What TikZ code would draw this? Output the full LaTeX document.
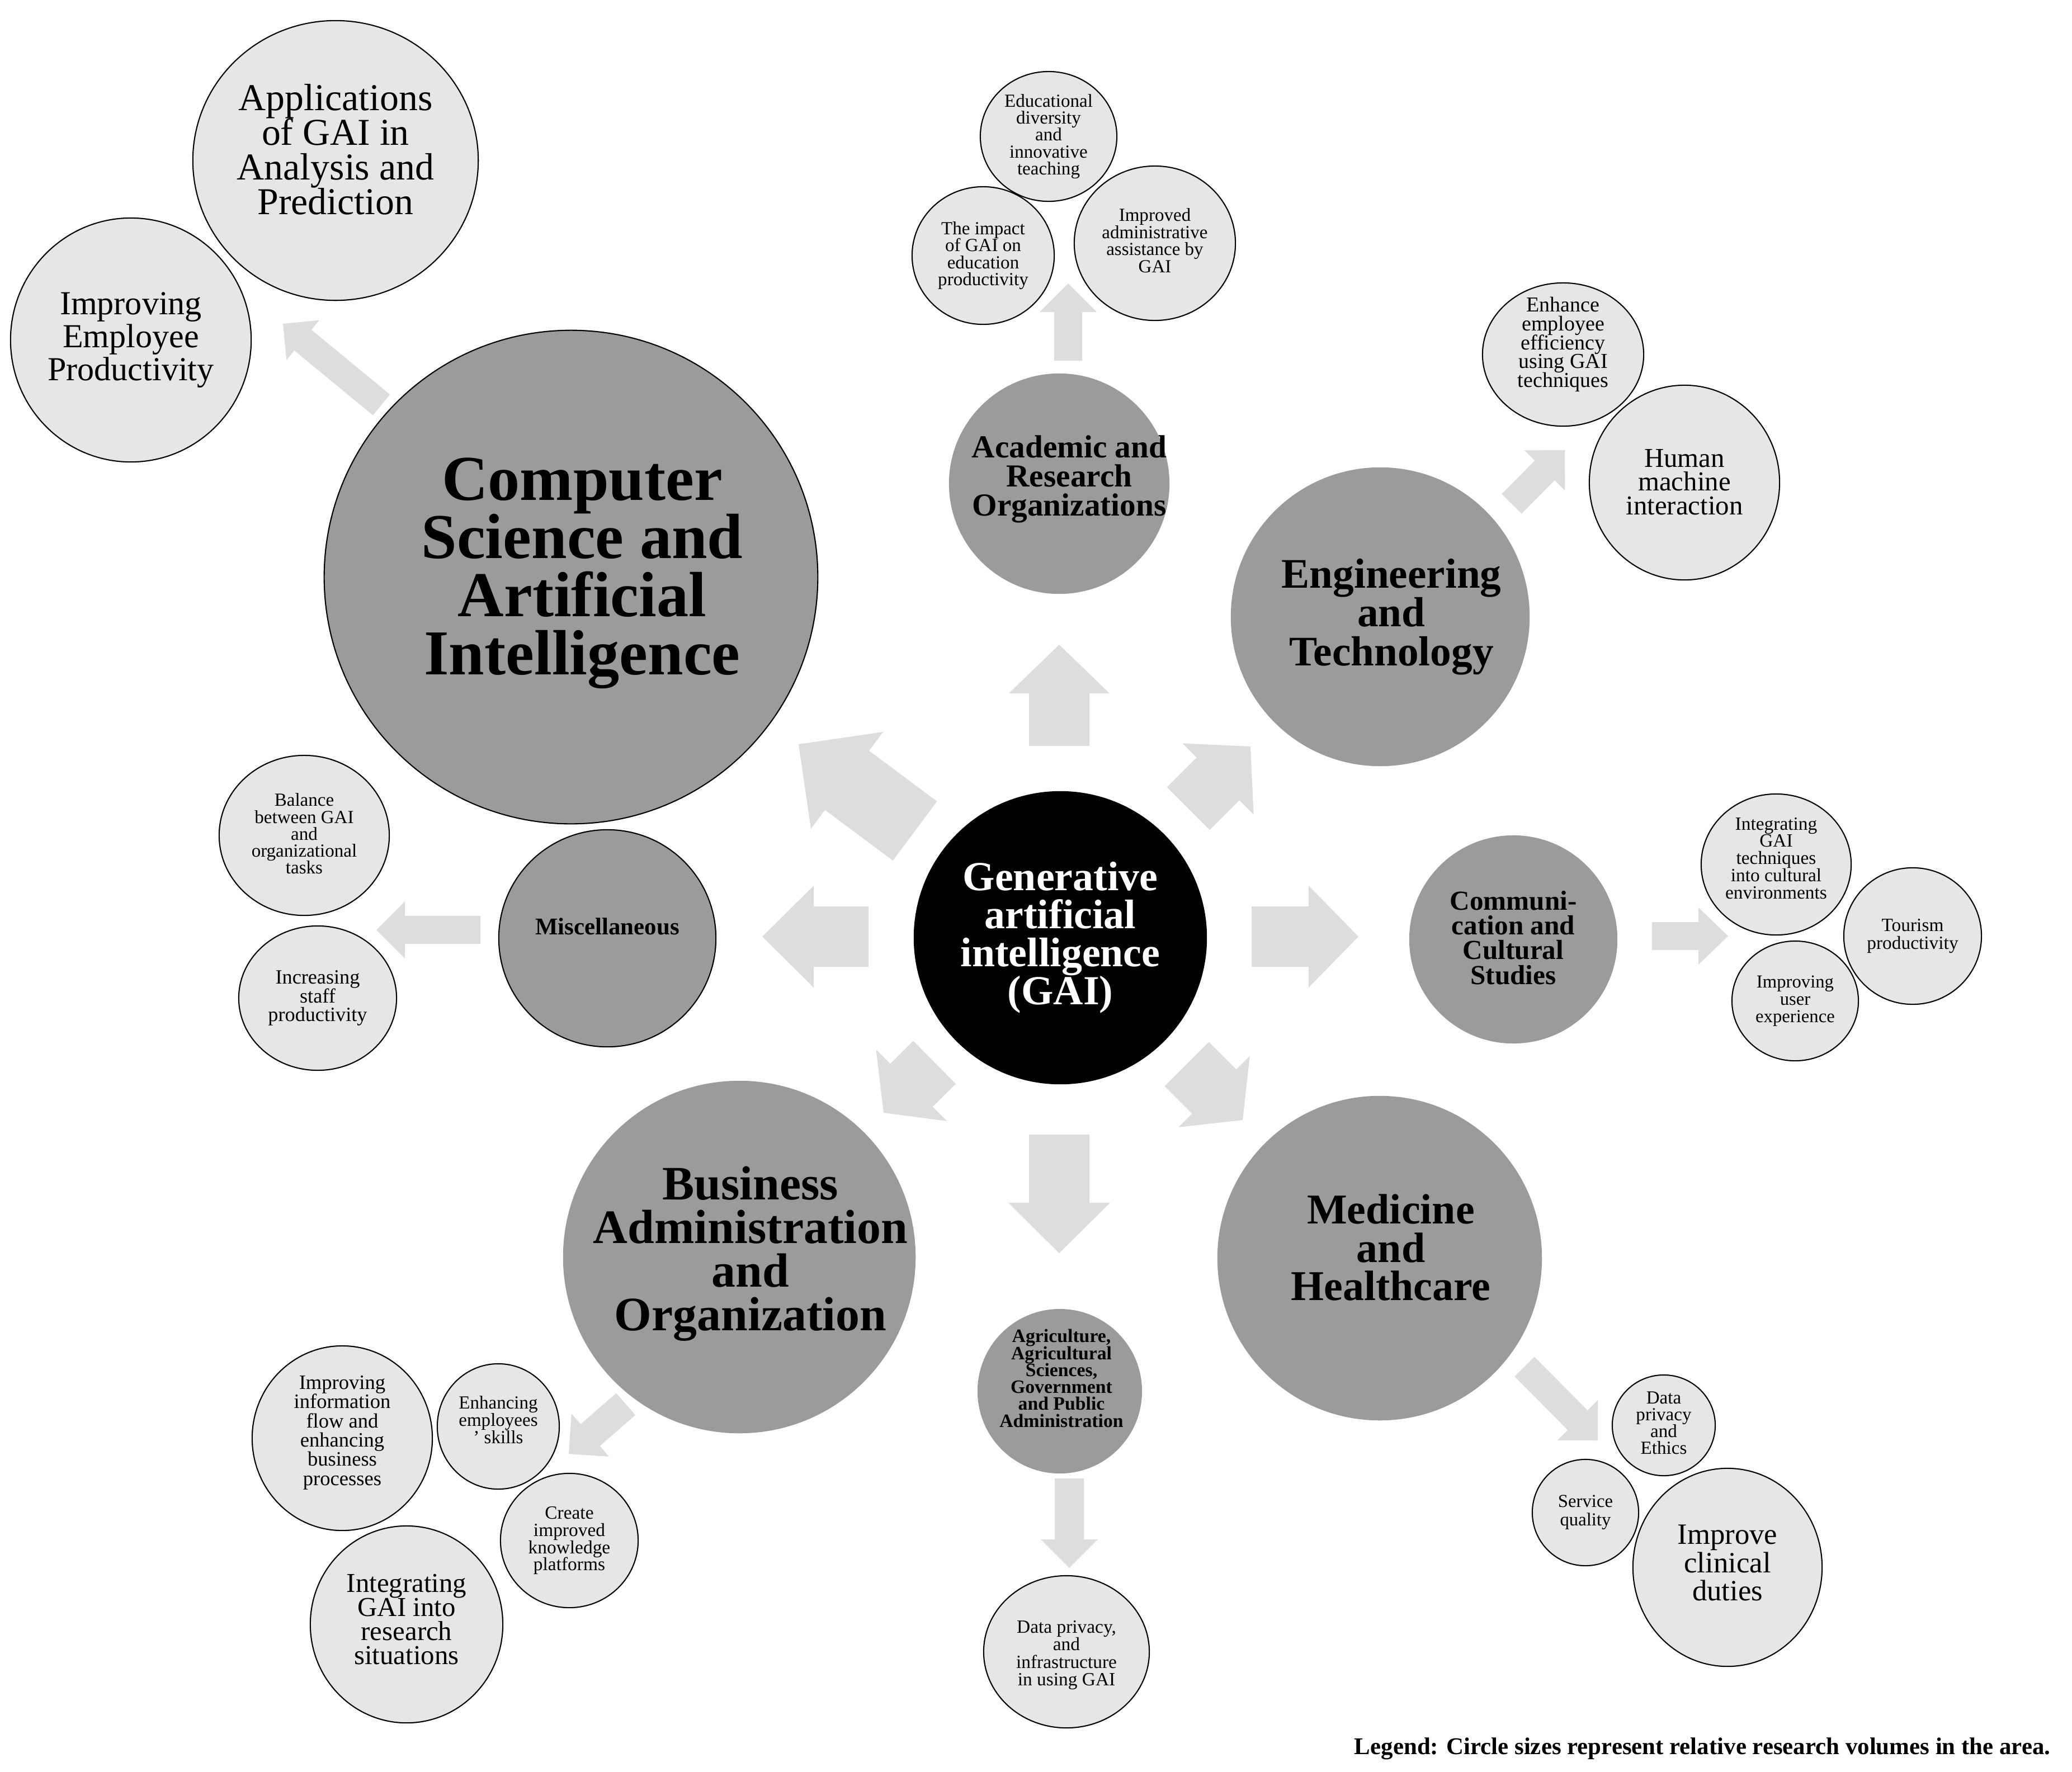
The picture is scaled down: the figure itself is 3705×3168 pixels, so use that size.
\documentclass[tikz,border=0pt]{standalone}
\usepackage{fontspec}
\setmainfont{Liberation Serif}
\usetikzlibrary{shapes.geometric,calc}
\definecolor{darkfill}{RGB}{155,155,155}
\definecolor{lightfill}{RGB}{230,230,230}
\definecolor{arrowfill}{RGB}{221,221,221}
\newcommand\fsz[2]{\fontsize{#1pt}{#2pt}\selectfont\lineskiplimit=-100pt\relax}
% block arrow: tail, tip, shaft half width, head half width, head length (px)
\newcommand\barrow[5]{%
  \path (#2) coordinate (bt) ($(#2)!#5*0.01cm!(#1)$) coordinate (bc);
  \fill[arrowfill] ($(#1)!#3*0.01cm!90:(bt)$) -- ($(bc)!#3*0.01cm!-90:(#1)$)
    -- ($(bc)!#4*0.01cm!-90:(#1)$) -- (bt) -- ($(bc)!#4*0.01cm!90:(#1)$)
    -- ($(bc)!#3*0.01cm!90:(#1)$) -- ($(#1)!#3*0.01cm!-90:(bt)$) -- cycle;}
\begin{document}
\begin{tikzpicture}[x=0.01cm,y=-0.01cm,
  blob/.style={ellipse,inner sep=0pt,outer sep=0pt},
  rad/.style 2 args={minimum width=#1*0.02cm,minimum height=#2*0.02cm},
  topic/.style={blob,fill=darkfill},
  ring/.style={draw=black,line width=0.6pt},
  item/.style={blob,fill=lightfill,draw=black,line width=0.6pt},
  txt/.style={inner sep=0pt,align=center}]
\useasboundingbox (0,0) rectangle (3705,3168);
\fill[white] (0,0) rectangle (3705,3168);

% ---------- arrow end points ----------
\coordinate (a1s) at (1894,1334); \coordinate (a1e) at (1894,1153);
\coordinate (a2s) at (2238,1675); \coordinate (a2e) at (2429,1675);
\coordinate (a3s) at (1553,1675); \coordinate (a3e) at (1363,1675);
\coordinate (a4s) at (1894,2029); \coordinate (a4e) at (1894,2241);
\coordinate (a5s) at (1636,1486); \coordinate (a5e) at (1428,1331);
\coordinate (a6s) at (2125,1446); \coordinate (a6e) at (2236,1335);
\coordinate (a7s) at (1671,1900); \coordinate (a7e) at (1580,1990);
\coordinate (a8s) at (2122,1903); \coordinate (a8e) at (2222,2003);
\coordinate (b1s) at (682,724);   \coordinate (b1e) at (506,579);
\coordinate (b2s) at (1910,645);  \coordinate (b2e) at (1910,507);
\coordinate (b3s) at (2703,901);  \coordinate (b3e) at (2798,805);
\coordinate (b4s) at (859,1663);  \coordinate (b4e) at (673,1663);
\coordinate (b5s) at (2954,1674); \coordinate (b5e) at (3090,1674);
\coordinate (b6s) at (2726,2444); \coordinate (b6e) at (2857,2576);
\coordinate (b7s) at (1912,2644); \coordinate (b7e) at (1912,2804);
\coordinate (b8s) at (1119,2511); \coordinate (b8e) at (1017,2600);

\barrow{a1s}{a1e}{54}{90}{87}
\barrow{a2s}{a2e}{54}{91}{89}
\barrow{a3s}{a3e}{54}{91}{92}
\barrow{a4s}{a4e}{54}{91}{90}
\barrow{a5s}{a5e}{66}{108}{108}
\barrow{a6s}{a6e}{54}{90}{82}
\barrow{a7s}{a7e}{54}{90}{70}
\barrow{a8s}{a8e}{56}{90}{72}
\barrow{b1s}{b1e}{24}{46}{46}
\barrow{b2s}{b2e}{25}{51}{51}
\barrow{b3s}{b3e}{25}{51}{51}
\barrow{b4s}{b4e}{25}{51}{51}
\barrow{b5s}{b5e}{25}{51}{53}
\barrow{b6s}{b6e}{25}{51}{51}
\barrow{b7s}{b7e}{26}{51}{51}
\barrow{b8s}{b8e}{26}{51}{51}

% ---------- main topics ----------
\node[topic,fill=black,rad={262}{262}] (gai) at (1896,1677) {};
\node[txt,text=white,font=\fsz{21}{19.3}\bfseries] (gait) at (gai.center)
  {Generative\\artificial\\intelligence\\(GAI)};
\node[topic,ring,rad={441}{441}] (cs) at (1021,1032) {};
\node[txt,font=\fsz{32.5}{29.6}\bfseries] (cst) at (1041,1025)
  {Computer\\Science and\\Artificial\\Intelligence};
\node[topic,rad={197}{197}] (acad) at (1894,865) {};
\node[txt,font=\fsz{16.3}{14.8}\bfseries] (acadt) at (1912,857)
  {Academic and\\Research\\Organizations};
\node[topic,rad={267}{267}] (eng) at (2468,1103) {};
\node[txt,font=\fsz{21.4}{19.8}\bfseries] (engt) at (2488,1103)
  {Engineering\\and\\Technology};
\node[topic,rad={186}{186}] (comm) at (2706,1680) {};
\node[txt,font=\fsz{14}{12.6}\bfseries] (commt) at (2706,1677)
  {Communi-\\cation and\\Cultural\\Studies};
\node[topic,rad={290}{290}] (med) at (2467,2250) {};
\node[txt,font=\fsz{21.6}{19.5}\bfseries] (medt) at (2487,2231)
  {Medicine\\and\\Healthcare};
\node[topic,rad={147}{147}] (agri) at (1895,2488) {};
\node[txt,font=\fsz{9.6}{8.6}\bfseries] (agrit) at (1898,2465)
  {Agriculture,\\Agricultural\\Sciences,\\Government\\and Public\\Administration};
\node[topic,rad={315}{315}] (bus) at (1322,2248) {};
\node[txt,font=\fsz{24.4}{22.2}\bfseries] (bust) at (1342,2242)
  {Business\\Administration\\and\\Organization};
\node[topic,ring,rad={194}{194}] (misc) at (1086,1678) {};
\node[txt,font=\fsz{12.2}{14}\bfseries] (misct) at (1086,1657) {Miscellaneous};

% ---------- sub topics ----------
\node[item,rad={255}{250}] (app) at (600,287) {};
\node[txt,font=\fsz{19.3}{17.6}] (appt) at (600,267)
  {Applications\\of GAI in\\Analysis and\\Prediction};
\node[item,rad={215}{218}] (emp) at (234,608) {};
\node[txt,font=\fsz{17.1}{16.8}] (empt) at (emp.center)
  {Improving\\Employee\\Productivity};

\node[item,rad={122}{116}] (edu) at (1875,244) {};
\node[txt,font=\fsz{9.4}{8.6}] (edut) at (edu.center)
  {Educational\\diversity\\and\\innovative\\teaching};
\node[item,rad={127}{123}] (impc) at (1758,457) {};
\node[txt,font=\fsz{9.4}{8.6}] (impct) at (impc.center)
  {The impact\\of GAI on\\education\\productivity};
\node[item,rad={144}{138}] (adm) at (2065,435) {};
\node[txt,font=\fsz{9.4}{8.7}] (admt) at (2065,430)
  {Improved\\administrative\\assistance by\\GAI};

\node[item,rad={144}{128}] (enh) at (2795,634) {};
\node[txt,font=\fsz{10.8}{9.6}] (enht) at (2795,616)
  {Enhance\\employee\\efficiency\\using GAI\\techniques};
\node[item,rad={170}{174}] (hum) at (3012,863) {};
\node[txt,font=\fsz{13.9}{12.1}] (humt) at (3012,862)
  {Human\\machine\\interaction};

\node[item,rad={134}{126}] (cul) at (3176,1546) {};
\node[txt,font=\fsz{9.5}{8.8}] (cult) at (3176,1535)
  {Integrating\\GAI\\techniques\\into cultural\\environments};
\node[item,rad={123}{122}] (tour) at (3420,1674) {};
\node[txt,font=\fsz{9.5}{9}] (tourt) at (tour.center)
  {Tourism\\productivity};
\node[item,rad={113}{107}] (user) at (3210,1790) {};
\node[txt,font=\fsz{9.3}{8.8}] (usert) at (user.center)
  {Improving\\user\\experience};

\node[item,rad={152}{143}] (bal) at (544,1494) {};
\node[txt,font=\fsz{9.4}{8.6}] (balt) at (544,1491)
  {Balance\\between GAI\\and\\organizational\\tasks};
\node[item,rad={141}{129}] (inc) at (568,1785) {};
\node[txt,font=\fsz{10.3}{9.6}] (inct) at (inc.center)
  {Increasing\\staff\\productivity};

\node[item,rad={161}{165}] (info) at (612,2572) {};
\node[txt,font=\fsz{10.4}{9.8}] (infot) at (612,2562)
  {Improving\\information\\flow and\\enhancing\\business\\processes};
\node[item,rad={109}{112}] (skl) at (891,2551) {};
\node[txt,font=\fsz{9.4}{8.8}] (sklt) at (891,2539)
  {Enhancing\\employees\\' skills};
\node[item,rad={123}{120}] (kno) at (1018,2755) {};
\node[txt,font=\fsz{9.5}{8.8}] (knot) at (kno.center)
  {Create\\improved\\knowledge\\platforms};
\node[item,rad={172}{176}] (res) at (727,2905) {};
\node[txt,font=\fsz{13.9}{12.3}] (rest) at (727,2896)
  {Integrating\\GAI into\\research\\situations};

\node[item,rad={92}{90}] (dpe) at (2975,2549) {};
\node[txt,font=\fsz{9.4}{8.5}] (dpet) at (2975,2545)
  {Data\\privacy\\and\\Ethics};
\node[item,rad={95}{95}] (svc) at (2835,2705) {};
\node[txt,font=\fsz{9.3}{9.4}] (svct) at (svc.center)
  {Service\\quality};
\node[item,rad={169}{177}] (cli) at (3089,2803) {};
\node[txt,font=\fsz{15}{14.4}] (clit) at (3089,2795)
  {Improve\\clinical\\duties};

\node[item,rad={148}{136}] (dpi) at (1907,2954) {};
\node[txt,font=\fsz{9.5}{9}] (dpit) at (1907,2960)
  {Data privacy,\\and\\infrastructure\\in using GAI};

% ---------- legend ----------
\node[anchor=base east,inner sep=0pt,font=\fsz{12.2}{14}\bfseries] (legend) at (3667,3137)
  {Legend: Circle sizes represent relative research volumes in the area.};
\end{tikzpicture}
\end{document}
